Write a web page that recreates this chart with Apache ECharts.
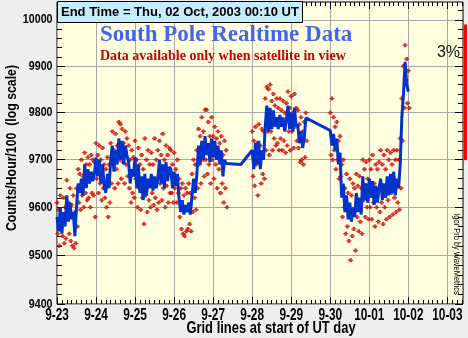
<!DOCTYPE html>
<html><head><meta charset="utf-8">
<script src="https://cdn.jsdelivr.net/npm/echarts@6/dist/echarts.min.js"></script>
<style>html,body{margin:0;padding:0;background:#EEEEEE}#c{width:468px;height:338px}</style>
</head><body><div id="c"></div><script>
// ---- data ----
const dayLabels = ['9-23','9-24','9-25','9-26','9-27','9-28','9-29','9-30','10-01','10-02','10-03'];
const yTickValues = [9400,9500,9600,9700,9800,9900,10000];
// hourly values from 9-23 00:00 UT (index = hour)
const blue = [
9580,9550,9600,9545,9590,9560,9625,9570,9610,9575,9590,9540,9600,9650,9630,9660,9625,9690,9640,9680,9650,9675,9655,9670,
9705,9665,9700,9650,9690,9645,9630,9670,9640,9700,9730,9675,9720,9690,9745,9700,9740,9690,9730,9710,9695,9650,9680,9665,
9705,9640,9690,9630,9665,9615,9670,9625,9660,9640,9670,9635,9665,9640,9660,9700,9650,9690,9640,9695,9655,9685,9680,9640,
9675,9645,9670,9620,9590,9615,9585,9605,9590,9610,9585,9625,9660,9630,9670,9730,9690,9740,9700,9750,9710,9735,9695,9745,
9705,9740,9700,9730,9690,9720,9665,9700,9692,null,null,null,null,null,null,null,null,9690,null,null,null,null,null,null,
9720,9680,9735,9690,9740,9680,9720,9700,9770,9815,9760,9810,9765,9805,9770,9790,9765,9795,9770,9790,9760,9785,9815,9765,
9800,9760,9810,9770,9775,9735,9760,9725,9745,9789,null,null,null,null,null,null,null,null,null,null,null,null,null,null,
9762,9730,9755,9720,9745,9690,9715,9620,9650,9590,9625,9575,9610,9570,9600,9580,9630,9590,9620,9585,9665,9615,9650,9610,
9660,9620,9655,9605,9645,9610,9640,9660,9615,9650,9620,9665,9625,9670,9630,9675,9625,9660,9640,9690,9790,9840,9909,9860,
9845];
const redA = [
9610,9595,9625,9580,9620,9600,9657,9610,9640,9605,9625,9590,9640,9680,9670,9700,9665,9715,9690,9705,9690,9710,9700,9695,
9735,9710,9730,9700,9725,9690,9680,9705,9690,9735,9760,9720,9755,9730,9780,9775,9765,9735,9760,9745,9730,9700,9720,9705,
9740,9700,9725,9690,9710,9680,9745,9700,9720,9690,9715,9690,9745,9700,9720,9740,9710,9755,9700,9730,9710,9725,9720,9690,
9715,9680,9700,9660,9640,9650,9625,9640,9630,9650,9630,9670,9700,9690,9720,9765,9750,9790,9760,9806,9806,9780,9750,9790,
9750,9770,9745,9760,9735,9750,9710,9740,9720,null,null,null,null,null,null,null,null,null,null,null,null,null,null,null,
9760,9740,9770,9735,9775,9730,9765,9760,9830,9855,9850,9860,9825,9840,9815,9830,9810,9830,9805,9825,9800,9820,9845,9810,
9835,9800,9840,9810,9805,9775,9790,9760,9780,9800,null,null,null,null,null,null,null,null,null,null,null,null,null,null,
9800,9830,9790,9770,9780,9740,9750,9690,9700,9640,9670,9630,9660,9625,9650,9640,9670,9645,9665,9640,9700,9680,9695,9660,
9700,9680,9710,9650,9690,9680,9695,9720,9690,9710,9680,9720,9700,9715,9690,9720,9700,9720,9700,9745,9830,9900,9945,9915,
9890];
const redB = [
9545,9520,9560,9540,9525,9535,9575,9545,9530,9520,9515,9525,9560,9610,9595,9625,9600,9630,9615,9620,9600,9630,9625,9580,
9660,9630,9650,9615,9640,9620,9600,9580,9610,9650,9690,9640,9680,9650,9700,9660,9695,9650,9690,9665,9640,9610,9630,9620,
9660,9600,9640,9595,9620,9565,9625,9590,9615,9600,9630,9605,9620,9595,9610,9650,9615,9640,9600,9645,9610,9630,9630,9610,
9640,9610,9630,9580,9555,9545,9540,9550,9555,9565,9550,9590,9620,9595,9640,9690,9650,9700,9665,9700,9670,9690,9650,9700,
9660,9690,9640,9680,9630,9650,9610,9640,9600,null,null,null,null,null,null,null,null,null,null,null,null,null,null,null,
9665,9645,9690,9625,9700,9650,9670,9660,9720,9760,9710,9760,9720,9745,9730,9735,9720,9745,9720,9740,9715,9730,9760,9720,
9760,9725,9770,9740,9725,9695,9700,9690,9705,9740,null,null,null,null,null,null,null,null,null,null,null,null,null,null,
9710,9700,9720,9680,9700,9660,9665,9580,9600,9545,9560,9530,9490,9540,9555,9510,9580,9550,9570,9545,9615,9580,9600,9575,
9600,9575,9610,9560,9600,9570,9590,9610,9565,9600,9575,9615,9580,9630,9585,9620,9590,9610,9595,9640,9740,9810,9870,9820,
9810];

// ---- build ----
const SANS = "'Liberation Sans', Arial, sans-serif";
const blueData = [];
blue.forEach((v, i) => { if (v != null) blueData.push([i / 24, v]); });
const redData = [];
redA.forEach((v, i) => { if (v != null) redData.push([i / 24, v]); });
redB.forEach((v, i) => { if (v != null) redData.push([(i + 0.5) / 24, v]); });

const xMajor = dayLabels.map((d, i) => i);
const xMinor = []; for (let k = 0; k <= 83; k++) xMinor.push(k / 8);
const yMinor = []; for (let v = 9400; v <= 10020; v += 20) yMinor.push(v);

const X_MIN = 0, X_MAX = 10.4, Y_MIN = 9400, Y_MAX = 10039;
const GRID_COLOR = '#A8A8A8';

function xAxisDef(pos, ticks, len, split) {
  return {
    type: 'value', min: X_MIN, max: X_MAX, position: pos, gridIndex: 0,
    axisLine: { show: false, onZero: false },
    axisTick: { show: true, inside: true, length: len, customValues: ticks, lineStyle: { color: '#000', width: 1 } },
    axisLabel: { show: false },
    splitLine: { show: split, lineStyle: { color: GRID_COLOR, width: 1 } },
    minorTick: { show: false }, minorSplitLine: { show: false }
  };
}
function yAxisDef(pos, ticks, len, split) {
  return {
    type: 'log', logBase: 10, min: Y_MIN, max: Y_MAX, position: pos, gridIndex: 0,
    axisLine: { show: false, onZero: false },
    axisTick: { show: true, inside: true, length: len, customValues: ticks, lineStyle: { color: '#000', width: 1 } },
    axisLabel: { show: false },
    splitLine: { show: split, lineStyle: { color: GRID_COLOR, width: 1 } },
    minorTick: { show: false }, minorSplitLine: { show: false }
  };
}
function txt(id, x, y, text, font, opts) {
  opts = opts || {};
  return {
    type: 'text', id: id, x: x, y: y, rotation: opts.rotation || 0,
    scaleX: opts.sx || 1, scaleY: 1, z: 11, silent: true,
    style: { text: text, font: font, fill: opts.fill || '#000',
      align: opts.align || 'left', verticalAlign: 'middle',
      textAlign: opts.align || 'left', textVerticalAlign: 'middle' }
  };
}

const chart = echarts.init(document.getElementById('c'), null, { renderer: 'canvas' });
const option = {
  animation: false,
  backgroundColor: '#EEEEEE',
  grid: { left: 57, right: 5, top: 2, bottom: 34, show: true, backgroundColor: '#FFFFE0', borderColor: '#000', borderWidth: 1, containLabel: false },
  xAxis: [
    xAxisDef('bottom', xMajor, 7, true),
    xAxisDef('bottom', xMinor, 4, false),
    xAxisDef('top', xMajor, 7, false),
    xAxisDef('top', xMinor, 4, false)
  ],
  yAxis: [
    yAxisDef('left', yTickValues, 8, true),
    yAxisDef('left', yMinor, 5, false),
    yAxisDef('right', yTickValues, 8, false),
    yAxisDef('right', yMinor, 5, false)
  ],
  series: [
    {
      type: 'scatter', xAxisIndex: 0, yAxisIndex: 0, data: redData,
      symbol: 'path://M1,0H3V1H4V2H3V3H1V2H0V1H1Z', symbolSize: [5, 4],
      itemStyle: { color: '#CC0000' }, z: 2, silent: true
    },
    {
      type: 'line', xAxisIndex: 0, yAxisIndex: 0, data: blueData,
      showSymbol: false, symbol: 'none', lineStyle: { color: '#0033CC', width: 3 }, z: 3, silent: true
    }
  ],
  graphic: [
    { type: 'rect', id: 'endbox', shape: { x: 57.5, y: 1.5, width: 245, height: 21 }, style: { fill: '#C6ECFF', stroke: '#000', lineWidth: 1 }, z: 10 },
    txt('endtxt', 61, 12, 'End Time = Thu, 02 Oct, 2003 00:10 UT', "bold 13px " + SANS),
    txt('title', 100, 35, 'South Pole Realtime Data', "bold 23px 'Liberation Serif', 'Times New Roman', serif", { fill: '#4466EE' }),
    txt('sub', 100, 56.5, 'Data available only when satellite in view', "bold 14px 'Liberation Serif', 'Times New Roman', serif", { fill: '#CC0000' }),
    txt('pct', 460, 53, '3%', "16px " + SANS, { align: 'right', fill: '#111' }),
    txt('igor', 456, 254, 'Igor Pro by WaveMetrics', "9px " + SANS, { align: 'center', rotation: -Math.PI / 2, sx: 0.83 }),
    txt('xname', 271, 329, 'Grid lines at start of UT day', "bold 16px " + SANS, { align: 'center', sx: 0.81 }),
    txt('yname', 11.5, 148, 'Counts/Hour/100  (log scale)', "bold 15px " + SANS, { align: 'center', rotation: Math.PI / 2, sx: 0.82 })
  ]
};
chart.setOption(option);

// tick labels, 3% bar: placed through the axis scales
const extra = [];
dayLabels.forEach((lab, i) => {
  const px = chart.convertToPixel({ xAxisIndex: 0 }, i);
  extra.push(txt('xl' + i, px, 315.5, lab, "bold 16px " + SANS, { align: 'center', sx: 0.74 }));
});
yTickValues.forEach((v, i) => {
  const py = chart.convertToPixel({ yAxisIndex: 0 }, v);
  extra.push(txt('yl' + i, 52.5, py, String(v), "bold 13px " + SANS, { align: 'right', sx: 0.82 }));
});
const barTopVal = 9990;
const yTop = chart.convertToPixel({ yAxisIndex: 0 }, barTopVal);
const yBot = chart.convertToPixel({ yAxisIndex: 0 }, barTopVal / 1.03);
extra.push({ type: 'rect', id: 'bar3', shape: { x: 464, y: yTop, width: 3, height: yBot - yTop }, style: { fill: '#FF0000' }, z: 12 });
chart.setOption({ graphic: extra });
</script></body></html>
